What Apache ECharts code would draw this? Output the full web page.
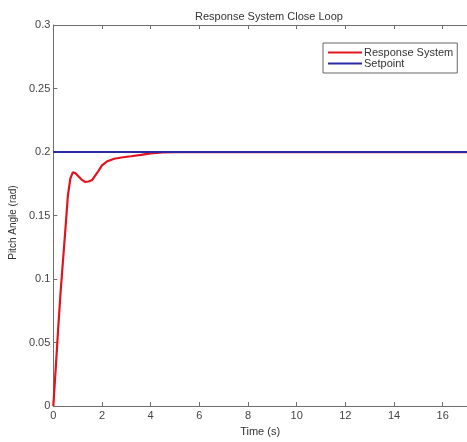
<!DOCTYPE html>
<html>
<head>
<meta charset="utf-8">
<script src="https://cdn.jsdelivr.net/npm/echarts@6/dist/echarts.min.js"></script>
<style>
html, body { margin: 0; padding: 0; background: #fff; }
#chart { width: 467px; height: 442px; }
</style>
</head>
<body>
<div id="chart"></div>
<script>
var timeValues = [0, 0.1, 0.2, 0.3, 0.4, 0.5, 0.6, 0.7, 0.8, 0.9, 1.0, 1.15, 1.3, 1.45, 1.6, 1.8, 2.0, 2.2, 2.5, 2.8, 3.2, 3.6, 4.0, 4.5, 5.0, 6, 8, 10, 12, 14, 16, 17];
var responseValues = [0, 0.03, 0.061, 0.09, 0.115, 0.14, 0.166, 0.179, 0.184, 0.1835, 0.1815, 0.1785, 0.1765, 0.1768, 0.178, 0.1835, 0.1895, 0.1925, 0.1947, 0.1957, 0.1967, 0.1978, 0.199, 0.1997, 0.2, 0.2, 0.2, 0.2, 0.2, 0.2, 0.2, 0.2];
var setpointTime = [0, 17];
var setpointValues = [0.2, 0.2];
var seriesNames = ['Response System', 'Setpoint'];

window.onload = function() {
	var myChart = echarts.init(document.getElementById('chart'));
	var font = 'Liberation Sans, Arial, sans-serif';
	var axisColor = '#6e6e6e';

	var responseData = [];
	for (var i = 0; i < timeValues.length; i++) {
		responseData.push([timeValues[i], responseValues[i]]);
	}
	var setpointData = [];
	for (var j = 0; j < setpointTime.length; j++) {
		setpointData.push([setpointTime[j], setpointValues[j]]);
	}

	var option = {
		animation : false,
		backgroundColor : '#fff',
		title : {
			text : 'Response System Close Loop',
			left : 190,
			top : 6,
			textStyle : { fontFamily : font, fontSize : 11, fontWeight : 'normal', color : '#333' }
		},
		legend : {
			orient : 'vertical',
			left : 323,
			top : 43,
			padding : [4, 4, 4, 5],
			itemGap : 0,
			itemWidth : 34,
			itemHeight : 2,
			icon : 'rect',
			borderColor : '#666',
			borderWidth : 1,
			backgroundColor : '#fff',
			textStyle : { fontFamily : font, fontSize : 11, color : '#333', padding : [0, 0, 0, -3] },
			data : seriesNames
		},
		grid : { left : 51, top : 25, bottom : 30, right : -6 },
		xAxis : [ {
			type : 'value',
			min : 0,
			max : 17,
			interval : 2,
			name : 'Time (s)',
			nameLocation : 'middle',
			nameGap : 16,
			nameTextStyle : { fontFamily : font, fontSize : 11, color : '#333' },
			axisLine : { lineStyle : { color : axisColor, width : 1 } },
			axisTick : { inside : true, length : 4, lineStyle : { color : axisColor } },
			axisLabel : { fontFamily : font, fontSize : 11, color : '#444', margin : 4, showMaxLabel : false },
			splitLine : { show : false }
		}, {
			type : 'value',
			position : 'top',
			min : 0,
			max : 17,
			interval : 2,
			axisLine : { lineStyle : { color : axisColor, width : 1 } },
			axisTick : { inside : true, length : 4, lineStyle : { color : axisColor } },
			axisLabel : { show : false },
			splitLine : { show : false }
		} ],
		yAxis : {
			type : 'value',
			min : 0,
			max : 0.3,
			interval : 0.05,
			name : 'Pitch Angle (rad)',
			nameLocation : 'middle',
			nameGap : 31,
			nameTextStyle : { fontFamily : font, fontSize : 10, color : '#333', padding : [0, 0, 0, -14] },
			axisLine : { show : true, lineStyle : { color : axisColor, width : 1 } },
			axisTick : { show : true, inside : true, length : 4, lineStyle : { color : axisColor } },
			axisLabel : { fontFamily : font, fontSize : 11, color : '#444', margin : 3 },
			splitLine : { show : false }
		},
		series : [ {
			name : seriesNames[0],
			type : 'line',
			showSymbol : false,
			smooth : false,
			lineStyle : { color : '#e0141e', width : 2.2 },
			itemStyle : { color : '#e0141e' },
			data : responseData
		}, {
			name : seriesNames[1],
			type : 'line',
			showSymbol : false,
			lineStyle : { color : '#2a2aa6', width : 2 },
			itemStyle : { color : '#2a2aa6' },
			data : setpointData,
			z : 3
		} ]
	};
	myChart.setOption(option);
};
</script>
</body>
</html>
